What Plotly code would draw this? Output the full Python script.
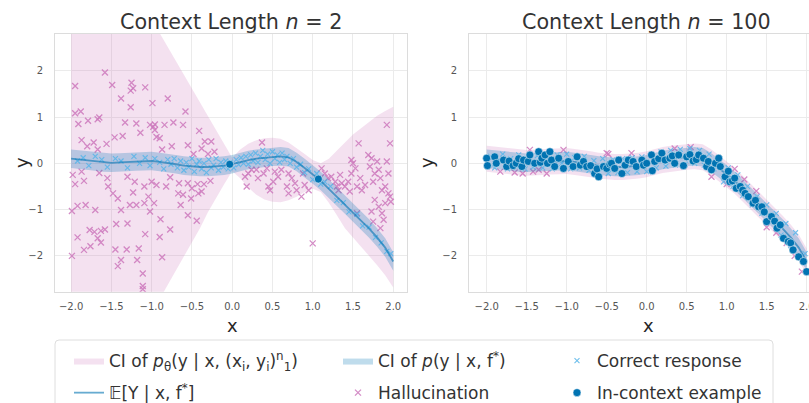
import plotly.graph_objects as go

FONT = "DejaVu Sans"
W, H = 809, 403

# ---------------- data ----------------
grid_x = [-2.0, -1.9, -1.8, -1.7, -1.6, -1.5, -1.4, -1.3, -1.2, -1.1, -1.0,
          -0.9, -0.8, -0.7, -0.6, -0.5, -0.4, -0.3, -0.2, -0.1, 0.0,
          0.1, 0.2, 0.3, 0.4, 0.5, 0.6, 0.7, 0.8, 0.9, 1.0,
          1.1, 1.2, 1.3, 1.4, 1.5, 1.6, 1.7, 1.8, 1.9, 2.0]

# E[Y | x, f*]
truth_mean = [0.10, 0.08, 0.06, 0.04, 0.02, 0.01, 0.02, 0.03, 0.04, 0.05, 0.05,
              0.03, 0.01, -0.02, -0.05, -0.07, -0.08, -0.08, -0.07, -0.05, -0.02,
              0.03, 0.07, 0.10, 0.12, 0.14, 0.15, 0.13, 0.03, -0.10, -0.24,
              -0.38, -0.55, -0.72, -0.89, -1.06, -1.23, -1.41, -1.60, -1.82, -2.12]
# CI of p(y | x, f*)
truth_lo = [-0.10, -0.12, -0.14, -0.16, -0.18, -0.19, -0.18, -0.17, -0.16, -0.15, -0.15,
            -0.17, -0.19, -0.22, -0.25, -0.27, -0.28, -0.28, -0.27, -0.25, -0.22,
            -0.17, -0.13, -0.10, -0.08, -0.06, -0.05, -0.07, -0.17, -0.30, -0.44,
            -0.58, -0.75, -0.92, -1.09, -1.26, -1.43, -1.61, -1.80, -2.02, -2.32]
truth_hi = [0.30, 0.28, 0.26, 0.24, 0.22, 0.21, 0.22, 0.23, 0.24, 0.25, 0.25,
            0.23, 0.21, 0.18, 0.15, 0.13, 0.12, 0.12, 0.13, 0.15, 0.18,
            0.23, 0.27, 0.30, 0.32, 0.34, 0.35, 0.33, 0.23, 0.10, -0.04,
            -0.18, -0.35, -0.52, -0.69, -0.86, -1.03, -1.21, -1.40, -1.62, -1.92]

# CI of p_theta(y | x, context), n = 2
model_lo_n2 = [-6.3, -6.0, -5.7, -5.4, -5.1, -4.7, -4.4, -4.1, -3.8, -3.5, -3.2,
               -2.9, -2.6, -2.3, -2.0, -1.7, -1.4, -1.05, -0.75, -0.45, -0.17,
               -0.32, -0.52, -0.68, -0.78, -0.83, -0.84, -0.80, -0.72, -0.62, -0.55,
               -0.62, -0.85, -1.12, -1.40, -1.62, -1.82, -2.00, -2.20, -2.42, -2.68]
model_hi_n2 = [6.1, 5.8, 5.5, 5.2, 4.9, 4.6, 4.3, 4.0, 3.7, 3.4, 3.1,
               2.8, 2.5, 2.2, 1.9, 1.6, 1.3, 1.0, 0.7, 0.4, 0.12,
               0.30, 0.42, 0.50, 0.54, 0.55, 0.53, 0.45, 0.33, 0.20, 0.07,
               0.00, 0.10, 0.28, 0.45, 0.62, 0.76, 0.90, 1.03, 1.13, 1.22]

# CI of p_theta(y | x, context), n = 100
model_lo_n100 = [-0.18, -0.20, -0.22, -0.24, -0.26, -0.27, -0.26, -0.25, -0.24, -0.23, -0.23,
                 -0.25, -0.27, -0.30, -0.33, -0.35, -0.36, -0.36, -0.35, -0.33, -0.30,
                 -0.25, -0.21, -0.18, -0.16, -0.14, -0.13, -0.15, -0.25, -0.38, -0.52,
                 -0.66, -0.83, -1.00, -1.17, -1.34, -1.51, -1.69, -1.88, -2.10, -2.40]
model_hi_n100 = [0.38, 0.36, 0.34, 0.32, 0.30, 0.29, 0.30, 0.31, 0.32, 0.33, 0.33,
                 0.31, 0.29, 0.26, 0.23, 0.21, 0.20, 0.20, 0.21, 0.23, 0.26,
                 0.31, 0.35, 0.38, 0.40, 0.42, 0.43, 0.41, 0.31, 0.18, 0.04,
                 -0.10, -0.27, -0.44, -0.61, -0.78, -0.95, -1.13, -1.32, -1.54, -1.84]

# hallucinations, n = 2
halluc_n2 = [
    (-1.58, 1.96), (-1.95, 1.67), (-1.49, 1.69), (-1.25, 1.74), (-1.23, 1.62), (-1.26, 1.57),
    (-1.08, 1.64), (-1.38, 1.40), (-0.80, 1.40), (-0.99, 1.30), (-1.26, 1.21), (-1.95, 1.08),
    (-1.88, 1.12), (-1.79, 0.92), (-1.91, 0.85), (-1.67, 0.95), (-1.65, 0.99), (-0.58, 1.12),
    (-1.33, 0.88), (-1.19, 0.86), (-1.02, 0.83), (-0.98, 0.79), (-0.96, 0.84), (-0.84, 0.83),
    (-0.73, 0.88), (-0.61, 0.83), (-1.14, 0.66), (-0.94, 0.57), (-0.90, 0.54), (-0.96, 0.72),
    (-1.46, 0.56), (-1.36, 0.59), (-1.87, 0.50), (-1.80, 0.37), (-1.72, 0.45), (-1.67, 0.30),
    (-1.56, 0.42), (-0.41, 0.70), (-0.75, 0.37), (-0.87, 0.30), (-0.55, 0.39), (-0.34, 0.47),
    (-0.26, 0.47), (-0.38, 0.32), (-0.30, 0.20), (-0.48, 0.20), (-0.22, 0.25),
    (-1.98, -0.25), (-1.87, -0.18), (-1.84, -0.38), (-1.95, -0.45), (-1.65, -0.21), (-1.55, -0.32),
    (-1.54, -0.50), (-1.30, -0.29), (-1.21, -0.40), (-1.09, -0.50), (-1.00, -0.40), (-0.94, -0.47),
    (-0.82, -0.50), (-0.77, -0.30), (-0.66, -0.43), (-0.55, -0.43), (-0.50, -0.54), (-0.43, -0.45),
    (-0.35, -0.45), (-0.27, -0.38), (-1.48, -0.65), (-1.42, -0.76), (-1.23, -0.63), (-1.04, -0.72),
    (-0.67, -0.65), (-0.61, -0.68), (-0.51, -0.76), (-0.42, -0.65), (-0.38, -0.61), (-1.92, -0.92),
    (-1.82, -0.90), (-1.99, -1.03), (-1.70, -1.01), (-1.38, -1.01), (-1.27, -0.90), (-1.19, -0.90),
    (-1.09, -0.86), (-1.02, -1.04), (-0.97, -0.86), (-0.64, -0.90), (-0.55, -1.12), (-0.44, -1.24),
    (-1.44, -1.31), (-1.30, -1.30), (-0.89, -1.21), (-0.77, -1.43), (-1.77, -1.44), (-1.71, -1.48),
    (-1.63, -1.46), (-1.58, -1.43), (-1.67, -1.62), (-1.92, -1.60), (-1.08, -1.53), (-0.90, -1.59),
    (-1.63, -1.71), (-1.76, -1.79), (-1.84, -1.87), (-1.45, -1.86), (-1.31, -1.86), (-1.16, -1.84),
    (-1.99, -2.00), (-1.38, -2.09), (-1.42, -2.22), (-1.18, -2.09), (-0.87, -2.03), (-1.11, -2.38),
    (-1.11, -2.65), (-1.11, -2.72),
    (0.37, 0.45), (0.16, -0.29), (0.18, -0.50), (0.24, -0.14), (0.32, -0.32), (0.39, -0.22),
    (0.45, -0.50), (0.47, -0.58), (0.51, -0.40), (0.57, -0.29), (0.61, -0.14), (0.68, -0.50),
    (0.70, -0.65), (0.74, -0.32), (0.78, -0.43), (0.80, -0.58), (0.86, -0.72), (0.90, -0.47),
    (0.95, -0.58), (0.88, -0.22), (0.70, -0.22), (0.53, -0.18), (0.43, -0.11), (0.30, -0.14),
    (0.20, -0.22),
    (1.11, -0.11), (1.15, -0.22), (1.19, -0.32), (1.23, -0.29), (1.28, -0.40), (1.30, -0.50),
    (1.32, -0.58), (1.36, -0.43), (1.34, -0.25), (1.40, -0.50), (1.44, -0.40), (1.46, -0.61),
    (1.48, -0.22), (1.50, 0.00), (1.53, -0.11), (1.55, -0.50), (1.59, -0.32), (1.61, -0.58),
    (1.65, -0.47), (1.69, 0.18), (1.71, -0.07), (1.73, 0.11), (1.75, -0.40), (1.77, -0.22),
    (1.80, 0.04), (1.82, -0.14), (1.84, -0.32), (1.86, -0.58), (1.90, -0.50), (1.92, 0.04),
    (1.94, -0.22), (1.96, -0.72), (1.97, -0.83), (1.92, 0.83), (1.96, 0.43), (1.57, 0.43),
    (1.48, 0.07), (1.77, -0.79), (1.82, -0.94), (1.86, -1.08), (1.84, -1.40), (1.88, -1.22),
    (1.73, -1.04), (1.55, -1.08), (1.00, -1.73), (1.94, -0.65), (1.90, -0.86), (1.75, -1.26),
]

# correct responses, n = 2
correct_n2 = [
    (-1.92, 0.05), (-1.85, 0.12), (-1.78, -0.05), (-1.70, 0.15), (-1.62, 0.08), (-1.55, -0.08),
    (-1.45, 0.10), (-1.38, 0.05), (-1.30, -0.10), (-1.22, 0.15), (-1.15, 0.00), (-1.08, 0.12),
    (-1.02, -0.05), (-0.96, 0.10), (-0.90, 0.02), (-0.85, -0.12), (-0.80, 0.08), (-0.76, -0.02),
    (-0.72, 0.10), (-0.68, -0.10), (-0.64, 0.05), (-0.60, -0.15), (-0.57, 0.02), (-0.54, -0.08),
    (-0.50, 0.10), (-0.47, -0.18), (-0.44, -0.02), (-0.41, 0.05), (-0.38, -0.12), (-0.35, 0.00),
    (-0.32, -0.20), (-0.29, 0.08), (-0.26, -0.10), (-0.23, -0.04), (-0.20, 0.10), (-0.17, -0.15),
    (-0.14, 0.02), (-0.11, -0.08), (-0.08, 0.05), (-0.05, -0.12), (-0.02, 0.02), (0.02, -0.10),
    (0.05, 0.08), (0.08, -0.03), (0.11, 0.12), (0.14, 0.00), (0.17, 0.15), (0.20, -0.02),
    (0.23, 0.18), (0.26, 0.05), (0.29, 0.22), (0.32, 0.02), (0.35, 0.15), (0.38, 0.28),
    (0.41, 0.08), (0.44, 0.20), (0.47, 0.00), (0.50, 0.25), (0.53, 0.10), (0.56, 0.18),
    (0.59, 0.02), (0.62, 0.22), (0.65, 0.08), (0.68, 0.15), (0.72, 0.00), (0.76, 0.10),
    (0.80, -0.08), (0.85, -0.02), (0.90, -0.20), (0.95, -0.12), (1.00, -0.35), (1.05, -0.22),
    (1.10, -0.45), (1.15, -0.40), (1.22, -0.50), (1.30, -0.80), (1.38, -0.85), (1.45, -1.05),
    (1.55, -1.10), (1.62, -1.35), (1.70, -1.38), (1.78, -1.60), (1.85, -1.72), (1.92, -1.90),
    (1.97, -1.95),
]

# in-context examples, n = 2
context_n2 = [(-0.03, -0.02), (1.07, -0.34)]

# in-context examples, n = 100
context_n100 = [
    (-2.00, 0.11), (-1.99, -0.05), (-1.90, 0.14), (-1.88, 0.00), (-1.79, 0.07), (-1.75, -0.07),
    (-1.72, 0.05), (-1.67, -0.05), (-1.63, 0.00), (-1.60, 0.10), (-1.56, -0.07), (-1.54, 0.07),
    (-1.48, 0.04), (-1.46, 0.18), (-1.40, 0.00), (-1.35, 0.25), (-1.33, 0.02), (-1.31, 0.11),
    (-1.27, 0.18), (-1.24, 0.00), (-1.21, 0.25), (-1.19, 0.07), (-1.15, -0.07), (-1.10, 0.11),
    (-1.04, -0.11), (-0.98, 0.04), (-0.92, -0.07), (-0.87, 0.14), (-0.83, -0.04), (-0.79, 0.04),
    (-0.75, -0.07), (-0.70, -0.05), (-0.65, -0.22), (-0.62, -0.12), (-0.60, -0.29), (-0.54, -0.07),
    (-0.50, -0.11), (-0.46, -0.02), (-0.44, 0.00), (-0.40, -0.11), (-0.35, 0.07), (-0.31, -0.22),
    (-0.27, -0.04), (-0.23, 0.07), (-0.17, 0.04), (-0.13, -0.07), (-0.06, 0.07), (-0.04, -0.04),
    (0.00, 0.00), (0.06, 0.18), (0.07, -0.16), (0.10, 0.04), (0.15, 0.10), (0.19, 0.22),
    (0.23, 0.07), (0.29, 0.11), (0.32, 0.16), (0.35, 0.00), (0.40, 0.18), (0.46, -0.05),
    (0.50, 0.14), (0.54, 0.19), (0.58, 0.05), (0.62, 0.08), (0.65, 0.18), (0.71, 0.11),
    (0.75, -0.07), (0.77, 0.04), (0.81, -0.14), (0.86, 0.00), (0.90, 0.11), (0.92, -0.07),
    (0.98, -0.29), (1.02, -0.17), (1.04, -0.40), (1.07, -0.38), (1.10, -0.32), (1.12, -0.54),
    (1.17, -0.50), (1.20, -0.58), (1.23, -0.65), (1.27, -0.72), (1.33, -0.86), (1.36, -0.80),
    (1.40, -0.94), (1.44, -0.94), (1.47, -1.05), (1.50, -1.26), (1.56, -1.15), (1.60, -1.25),
    (1.63, -1.40), (1.67, -1.33), (1.71, -1.62), (1.77, -1.69), (1.80, -1.72), (1.83, -1.87),
    (1.90, -2.02), (1.96, -2.12), (2.00, -2.34),
]

# correct responses, n = 100
correct_n100 = [
    (-1.95, 0.15), (-1.90, -0.10), (-1.85, 0.05), (-1.80, 0.20), (-1.74, -0.12), (-1.70, 0.10),
    (-1.64, -0.05), (-1.60, 0.18), (-1.52, -0.12), (-1.47, 0.12), (-1.42, -0.08), (-1.37, 0.16),
    (-1.30, -0.10), (-1.25, 0.12), (-1.18, -0.12), (-1.12, 0.18), (-1.06, 0.00), (-1.00, 0.20),
    (-0.95, -0.12), (-0.90, 0.12), (-0.84, -0.10), (-0.78, 0.15), (-0.72, -0.15), (-0.66, 0.06),
    (-0.60, -0.20), (-0.55, 0.10), (-0.48, -0.22), (-0.42, 0.08), (-0.36, -0.20), (-0.30, 0.10),
    (-0.24, -0.20), (-0.18, 0.12), (-0.12, -0.18), (-0.06, 0.14), (0.00, -0.18), (0.06, 0.18),
    (0.12, -0.10), (0.18, 0.25), (0.24, -0.06), (0.30, 0.28), (0.36, -0.04), (0.42, 0.30),
    (0.48, -0.02), (0.54, 0.32), (0.60, 0.00), (0.66, 0.28), (0.72, -0.04), (0.78, 0.20),
    (0.84, -0.12), (0.90, 0.05), (0.96, -0.40), (1.02, -0.10), (1.08, -0.50), (1.14, -0.25),
    (1.20, -0.70), (1.26, -0.50), (1.32, -0.90), (1.38, -0.72), (1.44, -1.08), (1.50, -0.90),
    (1.56, -1.25), (1.62, -1.08), (1.68, -1.55), (1.74, -1.30), (1.80, -1.78), (1.86, -1.50),
    (1.92, -2.00), (1.98, -1.95),
]

# hallucinations, n = 100
halluc_n100 = [
    (-1.83, -0.18), (-1.65, -0.20), (-1.55, -0.22), (-1.46, 0.29), (-1.42, -0.18), (-1.35, -0.14),
    (-1.25, -0.22), (-1.04, 0.29), (-0.50, 0.22), (-0.48, 0.20), (-0.19, 0.22), (0.35, 0.32),
    (0.55, 0.35), (0.81, -0.29), (1.00, -0.45), (1.10, -0.12), (1.22, -0.35), (1.37, -0.60),
    (1.50, -1.38), (1.62, -1.50), (1.75, -1.72), (1.85, -2.00), (1.94, -2.34),
]

x_ticks = [-2.0, -1.5, -1.0, -0.5, 0.0, 0.5, 1.0, 1.5, 2.0]
y_ticks = [-2, -1, 0, 1, 2]
titles = ["Context Length <i>n</i> = 2", "Context Length <i>n</i> = 100"]
x_label = "x"
y_label = "y"

# ---------------- styles ----------------
PINK = "#cc78bc"
LIGHT_BLUE = "#56b4e9"
DARK_BLUE = "#0173b2"
PINK_FILL = "rgba(204,120,188,0.22)"
BLUE_FILL = "rgba(1,115,178,0.25)"
MEAN_LINE = "rgba(1,115,178,0.6)"

LEG_CI_MODEL = "CI of <i>p</i><sub>θ</sub>(y | x, (x<sub>i</sub>, y<sub>i</sub>)<sup>n</sup><sub>1</sub>)"
LEG_CI_TRUE = "CI of <i>p</i>(y | x, f<sup>*</sup>)"
LEG_MEAN = "𝔼[Y | x, f<sup>*</sup>]"
LEG_HALL = "Hallucination"
LEG_CORR = "Correct response"
LEG_CTX = "In-context example"

fig = go.Figure()


def band(xs, lo, hi):
    return list(xs) + list(xs)[::-1], list(hi) + list(lo)[::-1]


panels = [
    ("x", "y", model_lo_n2, model_hi_n2, halluc_n2, correct_n2, context_n2, True),
    ("x2", "y2", model_lo_n100, model_hi_n100, halluc_n100, correct_n100, context_n100, False),
]

for xa, ya, mlo, mhi, hall, corr, ctx, show in panels:
    bx, by = band(grid_x, mlo, mhi)
    fig.add_trace(go.Scatter(x=bx, y=by, fill="toself", fillcolor=PINK_FILL,
                             line=dict(width=0, color=PINK_FILL), mode="lines",
                             name=LEG_CI_MODEL, showlegend=show, legend="legend",
                             legendgroup="a", legendrank=1, hoverinfo="skip",
                             xaxis=xa, yaxis=ya))
    fig.add_trace(go.Scatter(x=[p[0] for p in hall], y=[p[1] for p in hall], mode="markers",
                             marker=dict(symbol="x-thin", size=6, color=PINK,
                                         line=dict(width=1.3, color="rgba(204,120,188,0.85)")),
                             name=LEG_HALL, showlegend=show, legend="legend2",
                             legendgroup="d", legendrank=2, xaxis=xa, yaxis=ya))
    tx, ty = band(grid_x, truth_lo, truth_hi)
    fig.add_trace(go.Scatter(x=tx, y=ty, fill="toself", fillcolor=BLUE_FILL,
                             line=dict(width=0, color=BLUE_FILL), mode="lines",
                             name=LEG_CI_TRUE, showlegend=show, legend="legend2",
                             legendgroup="c", legendrank=1, hoverinfo="skip",
                             xaxis=xa, yaxis=ya))
    fig.add_trace(go.Scatter(x=[p[0] for p in corr], y=[p[1] for p in corr], mode="markers",
                             marker=dict(symbol="x-thin", size=5, color=LIGHT_BLUE,
                                         line=dict(width=1.1, color="rgba(86,180,233,0.85)")),
                             name=LEG_CORR, showlegend=show, legend="legend3",
                             legendgroup="e", legendrank=1, xaxis=xa, yaxis=ya))
    fig.add_trace(go.Scatter(x=grid_x, y=truth_mean, mode="lines",
                             line=dict(color=MEAN_LINE, width=1.8),
                             name=LEG_MEAN, showlegend=show, legend="legend",
                             legendgroup="b", legendrank=2, xaxis=xa, yaxis=ya))
    fig.add_trace(go.Scatter(x=[p[0] for p in ctx], y=[p[1] for p in ctx], mode="markers",
                             marker=dict(symbol="circle", size=8, color=DARK_BLUE,
                                         line=dict(width=0.5, color="white")),
                             name=LEG_CTX, showlegend=show, legend="legend3",
                             legendgroup="f", legendrank=2, xaxis=xa, yaxis=ya))

# ---------------- layout ----------------
def px_x(p):
    return p / W


def px_y(p):
    return 1 - p / H


axis_common = dict(showgrid=True, gridcolor="#ebebeb", gridwidth=1, zeroline=False,
                   showline=True, mirror=True, linecolor="#dcdcdc", linewidth=1,
                   ticks="", automargin=False,
                   tickfont=dict(family=FONT, size=10, color="#555555"))

xcommon = dict(axis_common, tickvals=x_ticks, tickformat=".1f", ticklabelstandoff=5,
               ticklabeloverflow="allow")
ycommon = dict(axis_common, tickvals=y_ticks, ticklabelstandoff=9)

ydom = [px_y(291.7), px_y(34)]
fig.update_layout(
    width=W, height=H,
    margin=dict(l=0, r=0, t=0, b=0, autoexpand=False),
    paper_bgcolor="white", plot_bgcolor="white",
    font=dict(family=FONT, color="#333333"),
    xaxis=dict(xcommon, domain=[px_x(55), px_x(406.7)], range=[-2.2, 2.167], anchor="y"),
    yaxis=dict(ycommon, domain=ydom, range=[-2.773, 2.793], anchor="x"),
    xaxis2=dict(xcommon, domain=[px_x(469), 1.0], range=[-2.221, 2.029], anchor="y2"),
    yaxis2=dict(ycommon, domain=ydom, range=[-2.773, 2.793], anchor="x2"),
    showlegend=True,
)

leg_common = dict(orientation="v", xanchor="left", yanchor="top", bgcolor="rgba(0,0,0,0)",
                  borderwidth=0, font=dict(family=FONT, size=17, color="#333333"),
                  itemwidth=30, traceorder="grouped", tracegroupgap=7, itemclick=False)
fig.update_layout(
    legend=dict(leg_common, x=px_x(69), y=px_y(343)),
    legend2=dict(leg_common, x=px_x(338), y=px_y(343)),
    legend3=dict(leg_common, x=px_x(557), y=px_y(343)),
)

# titles and axis labels
for text, cx in zip(titles, [231, 646]):
    fig.add_annotation(text=text, xref="paper", yref="paper", x=px_x(cx), y=px_y(22),
                       xanchor="center", yanchor="middle", showarrow=False,
                       font=dict(family=FONT, size=20.7, color="#333333"))
for cx in [232, 648]:
    fig.add_annotation(text=x_label, xref="paper", yref="paper", x=px_x(cx), y=px_y(325),
                       xanchor="center", yanchor="middle", showarrow=False,
                       font=dict(family=FONT, size=18, color="#262626"))
for cx in [22, 427]:
    fig.add_annotation(text=y_label, xref="paper", yref="paper", x=px_x(cx), y=px_y(163),
                       xanchor="center", yanchor="middle", showarrow=False, textangle=-90,
                       font=dict(family=FONT, size=18, color="#262626"))

# legend frame
x0, x1, y0, y1 = 55, 773, 340, 420
r = 4
path = (f"M {px_x(x0 + r)},{px_y(y0)} L {px_x(x1 - r)},{px_y(y0)} "
        f"Q {px_x(x1)},{px_y(y0)} {px_x(x1)},{px_y(y0 + r)} "
        f"L {px_x(x1)},{px_y(y1)} L {px_x(x0)},{px_y(y1)} "
        f"L {px_x(x0)},{px_y(y0 + r)} Q {px_x(x0)},{px_y(y0)} {px_x(x0 + r)},{px_y(y0)} Z")
fig.add_shape(type="path", path=path, xref="paper", yref="paper",
              line=dict(color="#dedede", width=1), fillcolor="rgba(255,255,255,0)")

fig.write_html(
    "out.html",
    config={"displayModeBar": False},
    post_script="document.body.style.margin='0px';document.body.style.overflow='hidden';",
)
